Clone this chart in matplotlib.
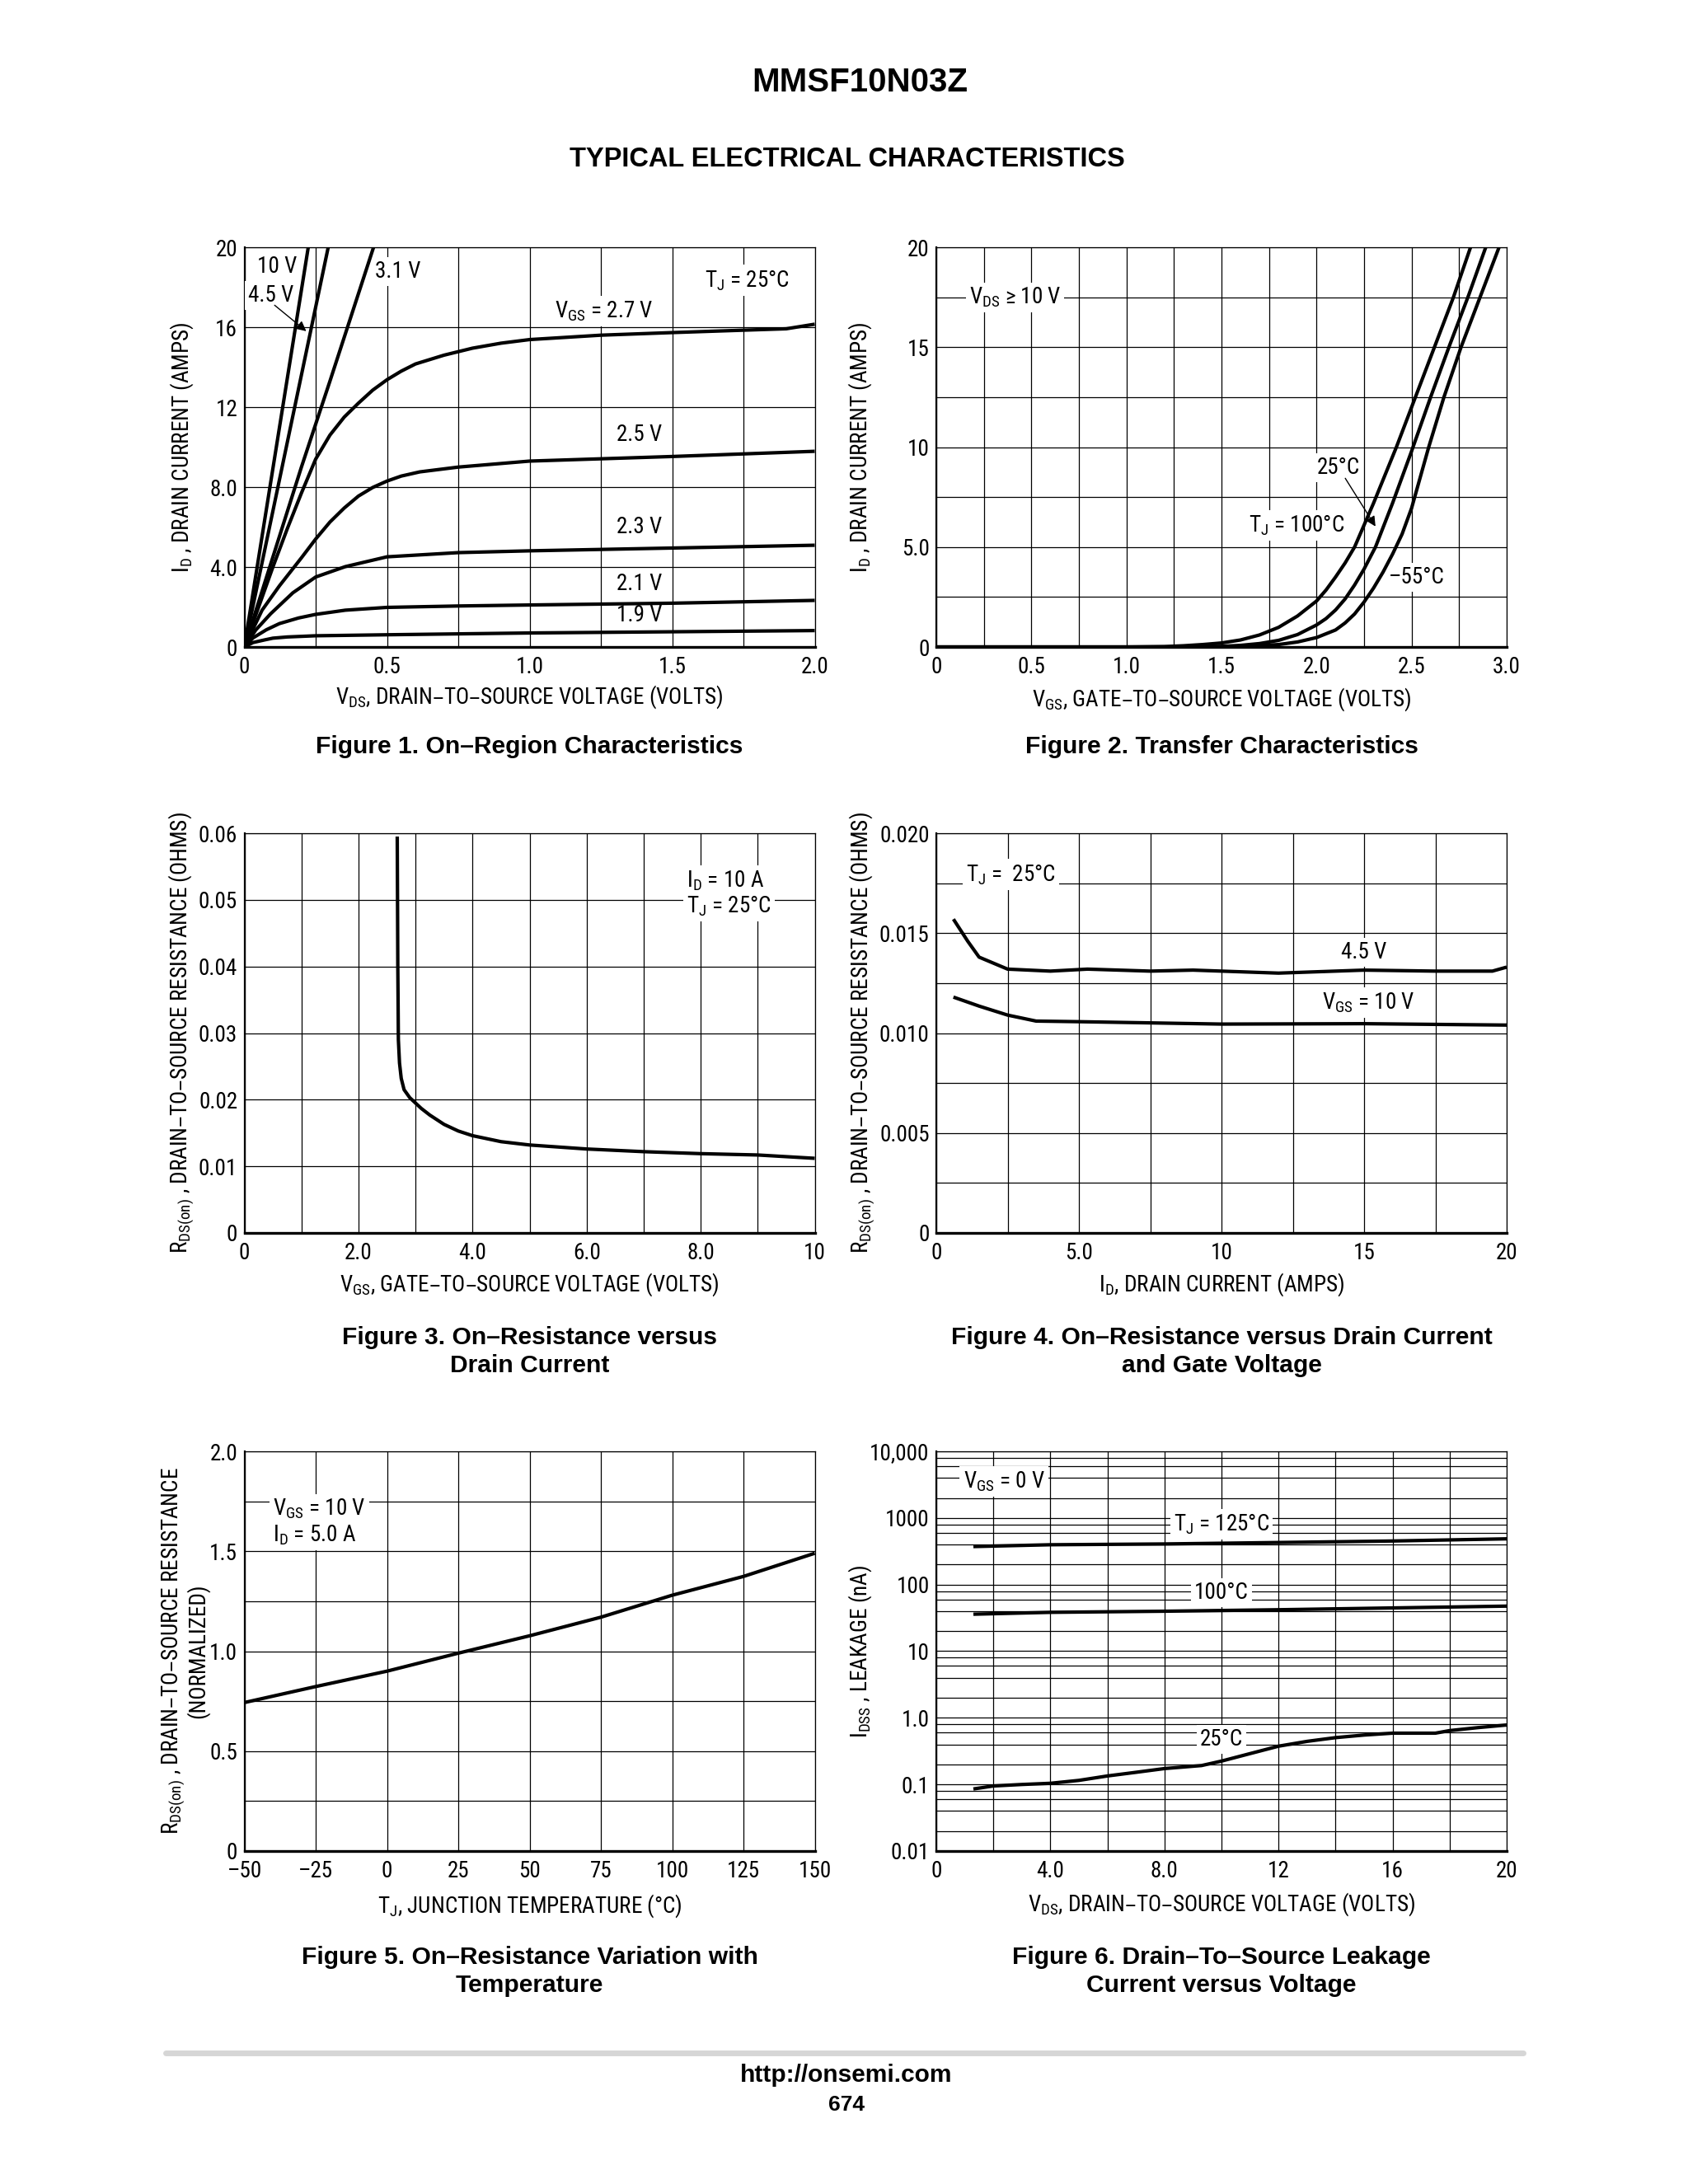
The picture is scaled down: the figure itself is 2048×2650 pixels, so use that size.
import matplotlib.pyplot as plt
from matplotlib.ticker import LogLocator, NullFormatter
from matplotlib.lines import Line2D

# 書式 (datasheet style: condensed sans for chart text, bold sans for titles)
NARROW = ['Liberation Sans Narrow', 'Roboto Condensed', 'Archivo Narrow', 'Liberation Sans', 'DejaVu Sans']
BOLD = ['Liberation Sans', 'DejaVu Sans']
plt.rcParams['font.family'] = NARROW
FS = 19.5

# ---------------- data ----------------
# Figure 1: ID (A) vs VDS (V) for several VGS
f1_vds_10v = [0, 0.224]
f1_id_10v = [0, 20]
f1_vds_45v = [0, 0.294]
f1_id_45v = [0, 20]
f1_vds_31v = [0, 0.2, 0.3, 0.453]
f1_id_31v = [0, 9.0, 13.3, 20]
f1_vds_27v = [0, 0.05, 0.1, 0.15, 0.2, 0.25, 0.3, 0.35, 0.4, 0.45, 0.5, 0.55, 0.6, 0.7, 0.8, 0.9, 1.0, 1.25, 1.5, 1.75, 1.9, 2.0]
f1_id_27v = [0, 2.0, 4.0, 5.9, 7.7, 9.4, 10.6, 11.5, 12.2, 12.85, 13.37, 13.8, 14.16, 14.6, 14.95, 15.2, 15.38, 15.6, 15.73, 15.85, 15.92, 16.15]
f1_vds_25v = [0, 0.062, 0.123, 0.2, 0.25, 0.3, 0.35, 0.4, 0.45, 0.5, 0.55, 0.615, 0.75, 1.0, 1.5, 2.0]
f1_id_25v = [0, 1.84, 3.06, 4.46, 5.4, 6.25, 6.95, 7.55, 7.98, 8.3, 8.55, 8.76, 9.0, 9.3, 9.53, 9.79]
f1_vds_23v = [0, 0.04, 0.092, 0.17, 0.25, 0.354, 0.5, 0.75, 1.0, 1.5, 2.0]
f1_id_23v = [0, 0.85, 1.66, 2.71, 3.5, 4.02, 4.51, 4.72, 4.81, 4.95, 5.09]
f1_vds_21v = [0, 0.03, 0.077, 0.123, 0.19, 0.25, 0.354, 0.5, 0.75, 1.0, 1.5, 2.0]
f1_id_21v = [0, 0.45, 0.86, 1.17, 1.45, 1.63, 1.84, 1.98, 2.05, 2.1, 2.19, 2.33]
f1_vds_19v = [0, 0.03, 0.07, 0.1, 0.15, 0.25, 0.5, 1.0, 1.5, 2.0]
f1_id_19v = [0, 0.22, 0.35, 0.44, 0.5, 0.56, 0.61, 0.7, 0.76, 0.82]

# Figure 2: ID (A) vs VGS (V) at three junction temperatures
f2_vgs_100c = [0, 1.0, 1.2, 1.3, 1.4, 1.5, 1.6, 1.7, 1.8, 1.9, 2.0, 2.05, 2.1, 2.15, 2.2, 2.3, 2.42, 2.52, 2.62, 2.72, 2.81]
f2_id_100c = [0, 0, 0.02, 0.06, 0.12, 0.2, 0.35, 0.6, 0.98, 1.55, 2.3, 2.85, 3.5, 4.2, 5.0, 7.2, 10, 12.5, 15, 17.5, 20]
f2_vgs_25c = [0, 1.3, 1.5, 1.6, 1.7, 1.8, 1.9, 2.0, 2.05, 2.1, 2.15, 2.2, 2.25, 2.31, 2.4, 2.5, 2.6, 2.7, 2.8, 2.89]
f2_id_25c = [0, 0, 0.03, 0.08, 0.17, 0.33, 0.62, 1.1, 1.42, 1.85, 2.4, 3.1, 3.9, 5.0, 7.2, 9.8, 12.5, 15.1, 17.6, 20]
f2_vgs_m55c = [0, 1.4, 1.6, 1.8, 1.9, 2.0, 2.1, 2.15, 2.2, 2.25, 2.3, 2.35, 2.4, 2.45, 2.5, 2.59, 2.67, 2.76, 2.86, 2.96]
f2_id_m55c = [0, 0, 0.03, 0.12, 0.25, 0.47, 0.85, 1.2, 1.65, 2.25, 2.95, 3.75, 4.65, 5.65, 6.95, 10, 12.5, 15, 17.5, 20]

# Figure 3: RDS(on) (ohm) vs VGS (V)
f3_vgs = [2.68, 2.685, 2.69, 2.70, 2.72, 2.75, 2.8, 2.9, 3.0, 3.1, 3.25, 3.5, 3.75, 4.0, 4.5, 5.0, 6.0, 7.0, 8.0, 9.0, 10.0]
f3_rds = [0.0595, 0.05, 0.04, 0.029, 0.0255, 0.0232, 0.0215, 0.0203, 0.0195, 0.0187, 0.0177, 0.0163, 0.0153, 0.0146, 0.0137, 0.0132, 0.0126, 0.0122, 0.0119, 0.0117, 0.0112]

# Figure 4: RDS(on) (ohm) vs ID (A)
f4_id_45v = [0.6, 1.1, 1.5, 2.5, 4.0, 5.3, 7.5, 9.0, 12.0, 15.0, 17.5, 19.5, 20.0]
f4_rds_45v = [0.0157, 0.0146, 0.0138, 0.0132, 0.0131, 0.0132, 0.0131, 0.01315, 0.0130, 0.01315, 0.0131, 0.0131, 0.0133]
f4_id_10v = [0.6, 1.5, 2.5, 3.5, 5.0, 10.0, 15.0, 20.0]
f4_rds_10v = [0.0118, 0.01135, 0.0109, 0.0106, 0.01057, 0.01045, 0.01047, 0.0104]

# Figure 5: normalized RDS(on) vs TJ (degC)
f5_tj = [-50, -25, 0, 25, 50, 75, 100, 125, 150]
f5_rds = [0.743, 0.823, 0.90, 0.99, 1.077, 1.17, 1.28, 1.374, 1.49]

# Figure 6: IDSS (nA) vs VDS (V)
f6_vds_125c = [1.3, 4, 8, 12, 16, 20]
f6_idss_125c = [372, 396, 407, 428, 451, 486]
f6_vds_100c = [1.3, 4, 8, 12, 16, 20]
f6_idss_100c = [35.9, 38.3, 39.8, 41.9, 44.6, 47.5]
f6_vds_25c = [1.3, 2.0, 3.0, 4.0, 5.0, 6.0, 7.0, 8.0, 9.3, 10.0, 11.0, 12.0, 13.0, 14.0, 15.0, 16.0, 17.5, 18.0, 19.0, 20.0]
f6_idss_25c = [0.0855, 0.0948, 0.0998, 0.104, 0.115, 0.134, 0.152, 0.173, 0.192, 0.224, 0.29, 0.375, 0.443, 0.504, 0.551, 0.588, 0.588, 0.643, 0.713, 0.78]

# tick labels
f1_xticks = [0, 0.5, 1.0, 1.5, 2.0]
f1_xlabels = ['0', '0.5', '1.0', '1.5', '2.0']
f1_yticks = [0, 4, 8, 12, 16, 20]
f1_ylabels = ['0', '4.0', '8.0', '12', '16', '20']
f2_xticks = [0, 0.5, 1.0, 1.5, 2.0, 2.5, 3.0]
f2_xlabels = ['0', '0.5', '1.0', '1.5', '2.0', '2.5', '3.0']
f2_yticks = [0, 5, 10, 15, 20]
f2_ylabels = ['0', '5.0', '10', '15', '20']
f3_xticks = [0, 2, 4, 6, 8, 10]
f3_xlabels = ['0', '2.0', '4.0', '6.0', '8.0', '10']
f3_yticks = [0, 0.01, 0.02, 0.03, 0.04, 0.05, 0.06]
f3_ylabels = ['0', '0.01', '0.02', '0.03', '0.04', '0.05', '0.06']
f4_xticks = [0, 5, 10, 15, 20]
f4_xlabels = ['0', '5.0', '10', '15', '20']
f4_yticks = [0, 0.005, 0.010, 0.015, 0.020]
f4_ylabels = ['0', '0.005', '0.010', '0.015', '0.020']
f5_xticks = [-50, -25, 0, 25, 50, 75, 100, 125, 150]
f5_xlabels = ['–50', '–25', '0', '25', '50', '75', '100', '125', '150']
f5_yticks = [0, 0.5, 1.0, 1.5, 2.0]
f5_ylabels = ['0', '0.5', '1.0', '1.5', '2.0']
f6_xticks = [0, 4, 8, 12, 16, 20]
f6_xlabels = ['0', '4.0', '8.0', '12', '16', '20']
f6_yticks = [0.01, 0.1, 1, 10, 100, 1000, 10000]
f6_ylabels = ['0.01', '0.1', '1.0', '10', '100', '1000', '10,000']

# ---------------- layout ----------------
W, H = 2048, 2650
AW, AH = 692, 485
COL = [296.5, 1136]
ROW = [300, 1011, 1761]
LW_CURVE = 3.0
LW_GRID = 0.9
BOX = dict(facecolor='white', edgecolor='none', pad=3)

fig = plt.figure(figsize=(W / 100, H / 100), dpi=100)


def make_axes(col, row):
    left = COL[col]
    top = ROW[row]
    return fig.add_axes([left / W, 1 - (top + AH) / H, AW / W, AH / H])


def style(ax, xlim, ylim, xt, xl, yt, yl, xminor=None, yminor=None):
    ax.set_xlim(*xlim)
    ax.set_ylim(*ylim)
    ax.set_xticks(xt, xl)
    ax.set_yticks(yt, yl)
    if xminor is not None:
        ax.set_xticks(xminor, minor=True)
    if yminor is not None:
        ax.set_yticks(yminor, minor=True)
    ax.tick_params(which='both', length=0, labelsize=FS)
    ax.tick_params(axis='x', pad=8)
    ax.tick_params(axis='y', pad=6)
    ax.grid(which='both', color='k', lw=LW_GRID)
    ax.set_axisbelow(True)
    for s in ['top', 'right']:
        ax.spines[s].set_linewidth(LW_GRID)
    ax.spines['left'].set_linewidth(1.6)
    ax.spines['bottom'].set_linewidth(2.4)


def labels(ax, xlabel, ylabel, xy, yx, ls=1.05):
    ax.set_xlabel(xlabel, fontsize=FS, va='center')
    ax.xaxis.set_label_coords(0.5, xy)
    ax.set_ylabel(ylabel, fontsize=FS, va='center', linespacing=ls)
    ax.yaxis.set_label_coords(yx, 0.5)


def curve(ax, x, y):
    ax.plot(x, y, color='k', lw=LW_CURVE, zorder=4, solid_capstyle='butt')


def note(ax, x, y, s, ha='center'):
    ax.text(x, y, s, ha=ha, va='center', fontsize=FS, bbox=BOX, zorder=3)


ARROW = dict(arrowstyle='-|>', color='k', lw=1.0, mutation_scale=18, shrinkA=0, shrinkB=0)

# --- Figure 1 ---
ax1 = make_axes(0, 0)
style(ax1, (0, 2), (0, 20), f1_xticks, f1_xlabels, f1_yticks, f1_ylabels,
      xminor=[0.25, 0.75, 1.25, 1.75])
for x, y in [(f1_vds_10v, f1_id_10v), (f1_vds_45v, f1_id_45v), (f1_vds_31v, f1_id_31v),
             (f1_vds_27v, f1_id_27v), (f1_vds_25v, f1_id_25v), (f1_vds_23v, f1_id_23v),
             (f1_vds_21v, f1_id_21v), (f1_vds_19v, f1_id_19v)]:
    curve(ax1, x, y)
note(ax1, 0.116, 19.05, '10 V')
note(ax1, 0.092, 17.57, '4.5 V')
ax1.annotate('', xy=(0.217, 15.8), xytext=(0.106, 17.1), arrowprops=ARROW, zorder=5)
note(ax1, 0.539, 18.8, '3.1 V')
note(ax1, 1.762, 18.35, r'$\mathregular{T_J}$ = 25°C')
note(ax1, 1.262, 16.8, r'$\mathregular{V_{GS}}$ = 2.7 V')
note(ax1, 1.385, 10.6, '2.5 V')
note(ax1, 1.385, 6.0, '2.3 V')
note(ax1, 1.385, 3.14, '2.1 V')
note(ax1, 1.385, 1.57, '1.9 V')
labels(ax1, r'$\mathregular{V_{DS}}$, DRAIN–TO–SOURCE VOLTAGE (VOLTS)',
       r'$\mathregular{I_D}$ , DRAIN CURRENT (AMPS)', -0.124, -0.110)

# --- Figure 2 ---
ax2 = make_axes(1, 0)
style(ax2, (0, 3), (0, 20), f2_xticks, f2_xlabels, f2_yticks, f2_ylabels,
      xminor=[0.25, 0.75, 1.25, 1.75, 2.25, 2.75], yminor=[2.5, 7.5, 12.5, 17.5])
curve(ax2, f2_vgs_100c, f2_id_100c)
curve(ax2, f2_vgs_25c, f2_id_25c)
curve(ax2, f2_vgs_m55c, f2_id_m55c)
note(ax2, 0.414, 17.49, r'$\mathregular{V_{DS}}$ ≥ 10 V')
note(ax2, 2.116, 8.96, '25°C')
ax2.annotate('', xy=(2.31, 6.03), xytext=(2.151, 8.44), arrowprops=ARROW, zorder=5)
note(ax2, 1.896, 6.09, r'$\mathregular{T_J}$ = 100°C')
note(ax2, 2.525, 3.48, '–55°C')
labels(ax2, r'$\mathregular{V_{GS}}$, GATE–TO–SOURCE VOLTAGE (VOLTS)',
       r'$\mathregular{I_D}$ , DRAIN CURRENT (AMPS)', -0.131, -0.134)

# --- Figure 3 ---
ax3 = make_axes(0, 1)
style(ax3, (0, 10), (0, 0.06), f3_xticks, f3_xlabels, f3_yticks, f3_ylabels,
      xminor=[1, 3, 5, 7, 9])
curve(ax3, f3_vgs, f3_rds)
note(ax3, 7.76, 0.0529, r'$\mathregular{I_D}$ = 10 A', ha='left')
note(ax3, 7.76, 0.0491, r'$\mathregular{T_J}$ = 25°C', ha='left')
labels(ax3, r'$\mathregular{V_{GS}}$, GATE–TO–SOURCE VOLTAGE (VOLTS)',
       r'$\mathregular{R_{DS(on)}}$ , DRAIN–TO–SOURCE RESISTANCE (OHMS)', -0.129, -0.110)

# --- Figure 4 ---
ax4 = make_axes(1, 1)
style(ax4, (0, 20), (0, 0.020), f4_xticks, f4_xlabels, f4_yticks, f4_ylabels,
      xminor=[2.5, 7.5, 12.5, 17.5], yminor=[0.0025, 0.0075, 0.0125, 0.0175])
curve(ax4, f4_id_45v, f4_rds_45v)
curve(ax4, f4_id_10v, f4_rds_10v)
note(ax4, 2.61, 0.01793, r'$\mathregular{T_J}$ =  25°C')
note(ax4, 14.98, 0.01403, '4.5 V')
note(ax4, 15.14, 0.01152, r'$\mathregular{V_{GS}}$ = 10 V')
labels(ax4, r'$\mathregular{I_D}$, DRAIN CURRENT (AMPS)',
       r'$\mathregular{R_{DS(on)}}$ , DRAIN–TO–SOURCE RESISTANCE (OHMS)', -0.129, -0.130)

# --- Figure 5 ---
ax5 = make_axes(0, 2)
style(ax5, (-50, 150), (0, 2.0), f5_xticks, f5_xlabels, f5_yticks, f5_ylabels,
      yminor=[0.25, 0.75, 1.25, 1.75])
curve(ax5, f5_tj, f5_rds)
note(ax5, -39.9, 1.711, r'$\mathregular{V_{GS}}$ = 10 V', ha='left')
note(ax5, -39.9, 1.582, r'$\mathregular{I_D}$ = 5.0 A', ha='left')
labels(ax5, r'$\mathregular{T_J}$, JUNCTION TEMPERATURE (°C)',
       r'$\mathregular{R_{DS(on)}}$ , DRAIN–TO–SOURCE RESISTANCE' + '\n(NORMALIZED)', -0.138, -0.104, ls=0.95)

# --- Figure 6 ---
ax6 = make_axes(1, 2)
ax6.set_yscale('log')
style(ax6, (0, 20), (0.01, 10000), f6_xticks, f6_xlabels, f6_yticks, f6_ylabels,
      xminor=[2, 6, 10, 14, 18])
ax6.yaxis.set_minor_locator(LogLocator(base=10, subs=(2, 4, 6, 8), numticks=20))
ax6.yaxis.set_minor_formatter(NullFormatter())
ax6.tick_params(which='both', length=0)
curve(ax6, f6_vds_125c, f6_idss_125c)
curve(ax6, f6_vds_100c, f6_idss_100c)
curve(ax6, f6_vds_25c, f6_idss_25c)
note(ax6, 2.37, 3524, r'$\mathregular{V_{GS}}$ = 0 V')
note(ax6, 10.0, 807, r'$\mathregular{T_J}$ = 125°C')
note(ax6, 10.0, 75, '100°C')
note(ax6, 10.0, 0.47, '25°C')
labels(ax6, r'$\mathregular{V_{DS}}$, DRAIN–TO–SOURCE VOLTAGE (VOLTS)',
       r'$\mathregular{I_{DSS}}$ , LEAKAGE (nA)', -0.134, -0.134)

# ---------------- page text ----------------
def ftext(xp, yp, s, size, **kw):
    fig.text(xp / W, 1 - yp / H, s, ha='center', va='center', fontsize=size,
             fontweight='bold', family=BOLD, **kw)


ftext(1043, 100, 'MMSF10N03Z', 29)
ftext(1028, 193, 'TYPICAL ELECTRICAL CHARACTERISTICS', 23.5)

cx = [COL[0] + AW / 2, COL[1] + AW / 2]
CAP = 21.6
ftext(cx[0], 906, 'Figure 1. On–Region Characteristics', CAP)
ftext(cx[1], 906, 'Figure 2. Transfer Characteristics', CAP)
ftext(cx[0], 1640, 'Figure 3. On–Resistance versus\nDrain Current', CAP, linespacing=1.3)
ftext(cx[1], 1640, 'Figure 4. On–Resistance versus Drain Current\nand Gate Voltage', CAP, linespacing=1.3)
ftext(cx[0], 2392, 'Figure 5. On–Resistance Variation with\nTemperature', CAP, linespacing=1.3)
ftext(cx[1], 2392, 'Figure 6. Drain–To–Source Leakage\nCurrent versus Voltage', CAP, linespacing=1.3)

fig.add_artist(Line2D([201 / W, 1848 / W], [1 - 2491 / H, 1 - 2491 / H], color='#d6d6d6',
                      lw=5, solid_capstyle='round'))
ftext(1027, 2518, 'http://onsemi.com', 21.5)
ftext(1027, 2554, '674', 19)

fig.savefig('out.png', dpi=100)
